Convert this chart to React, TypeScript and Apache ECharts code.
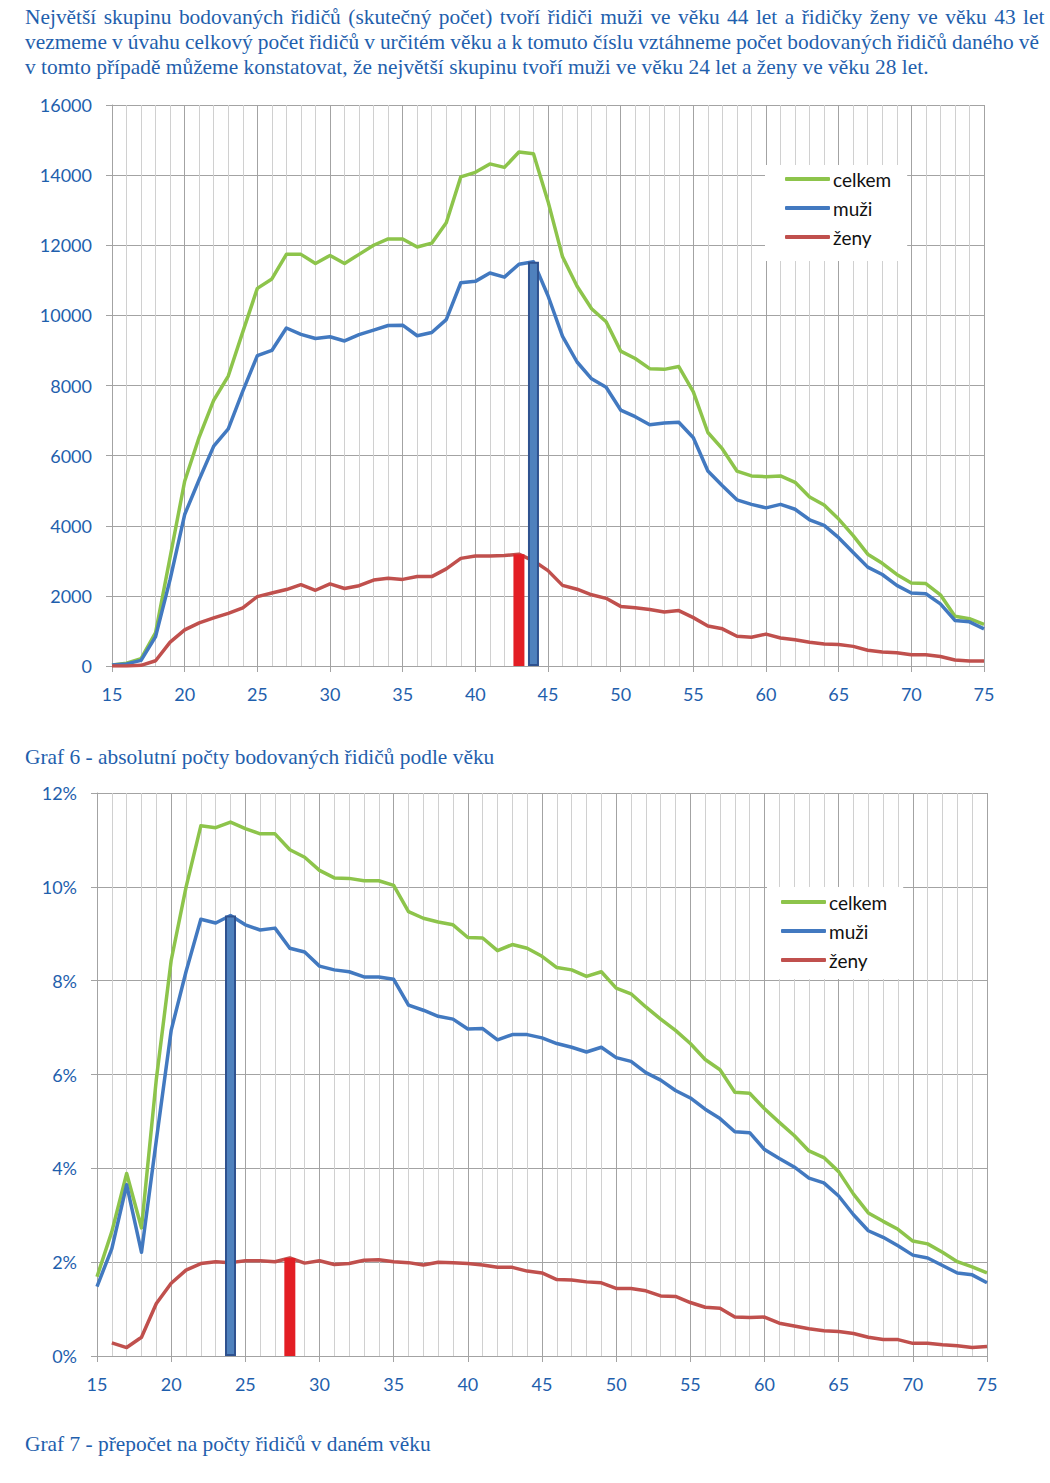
import React, { useEffect, useRef } from "react";
import * as echarts from "echarts";

const ages = [
  15, 16, 17, 18, 19, 20, 21, 22, 23, 24, 25, 26, 27, 28, 29, 30, 31, 32, 33, 34, 35, 36, 37, 38, 39, 40,
  41, 42, 43, 44, 45, 46, 47, 48, 49, 50, 51, 52, 53, 54, 55, 56, 57, 58, 59, 60, 61, 62, 63, 64, 65,
  66, 67, 68, 69, 70, 71, 72, 73, 74, 75,
];

// Graf 6 – absolute counts
const celkem1 = [
  30, 80, 210, 950, 3110, 5270, 6530, 7580, 8270, 9530, 10770, 11040, 11740, 11740, 11480, 11710, 11480,
  11740, 12000, 12180, 12180, 11950, 12060, 12640, 13950, 14080, 14320, 14220, 14660, 14610, 13250, 11670,
  10830, 10190, 9820, 8980, 8770, 8480, 8460, 8540, 7820, 6660, 6190, 5560, 5420, 5400, 5420, 5240, 4820,
  4590, 4190, 3720, 3190, 2930, 2610, 2370, 2350, 2030, 1420, 1350, 1190,
];
const muzi1 = [
  30, 60, 160, 840, 2470, 4320, 5320, 6270, 6760, 7840, 8850, 9000, 9640, 9460, 9340, 9390, 9270, 9450,
  9580, 9710, 9720, 9420, 9510, 9880, 10930, 10970, 11210, 11090, 11460, 11530, 10560, 9400, 8670, 8190,
  7950, 7300, 7110, 6880, 6930, 6950, 6510, 5560, 5140, 4740, 4610, 4510, 4610, 4470, 4170, 4010, 3660,
  3240, 2820, 2610, 2300, 2080, 2060, 1770, 1300, 1260, 1060,
];
const zeny1 = [
  0, 0, 20, 150, 680, 1030, 1230, 1370, 1500, 1660, 1980, 2080, 2180, 2320, 2160, 2340, 2210, 2290, 2450,
  2500, 2470, 2550, 2550, 2770, 3070, 3140, 3140, 3150, 3190, 3000, 2720, 2300, 2190, 2030, 1930, 1700,
  1660, 1610, 1540, 1580, 1380, 1140, 1060, 850, 820, 910, 800, 750, 680, 630, 610, 560, 450, 400, 380,
  320, 320, 270, 170, 140, 140,
];

// Graf 7 – share of drivers of given age (%)
const celkem2 = [
  1.69, 2.65, 3.89, 2.73, 5.9, 8.43, 9.99, 11.3, 11.26, 11.38, 11.24, 11.13, 11.13, 10.79, 10.63, 10.35,
  10.19, 10.18, 10.13, 10.13, 10.03, 9.47, 9.33, 9.25, 9.19, 8.92, 8.91, 8.64, 8.77, 8.69, 8.52, 8.28, 8.23,
  8.09, 8.19, 7.84, 7.72, 7.44, 7.18, 6.94, 6.66, 6.32, 6.1, 5.62, 5.6, 5.27, 4.98, 4.7, 4.37, 4.23, 3.93,
  3.45, 3.05, 2.87, 2.7, 2.45, 2.39, 2.21, 2.01, 1.9, 1.77,
];
const muzi2 = [
  1.48, 2.29, 3.65, 2.21, 4.6, 6.94, 8.19, 9.31, 9.23, 9.39, 9.19, 9.08, 9.12, 8.69, 8.61, 8.31, 8.23, 8.19,
  8.08, 8.08, 8.03, 7.48, 7.37, 7.24, 7.18, 6.97, 6.98, 6.74, 6.85, 6.85, 6.78, 6.66, 6.58, 6.48, 6.58, 6.36,
  6.28, 6.04, 5.88, 5.66, 5.5, 5.26, 5.06, 4.78, 4.76, 4.4, 4.21, 4.03, 3.79, 3.69, 3.41, 3.01, 2.67, 2.53,
  2.35, 2.15, 2.09, 1.93, 1.77, 1.73, 1.56,
];
const zeny2 = [
  null, 0.28, 0.18, 0.4, 1.12, 1.55, 1.83, 1.97, 2.01, 1.99, 2.03, 2.03, 2.01, 2.09, 1.98, 2.03, 1.95, 1.97,
  2.04, 2.05, 2.01, 1.99, 1.94, 2.0, 1.99, 1.97, 1.94, 1.89, 1.89, 1.81, 1.77, 1.63, 1.62, 1.58, 1.56, 1.44,
  1.44, 1.39, 1.28, 1.27, 1.14, 1.04, 1.02, 0.83, 0.82, 0.83, 0.7, 0.64, 0.58, 0.54, 0.52, 0.48, 0.4, 0.35,
  0.35, 0.27, 0.27, 0.24, 0.22, 0.18, 0.2,
];

const seriesNames = ["celkem", "muži", "ženy"];
const yTicks1 = { min: 0, max: 16000, interval: 2000 };
const yTicks2 = { min: 0, max: 12, interval: 2 };
const xTicks = { min: 15, max: 75, interval: 5 };

// highlighted ages (bars)
const peak1 = { zeny: 43, muzi: 44 };
const peak2 = { muzi: 24, zeny: 28 };

const textLines = [
  "Největší skupinu bodovaných řidičů (skutečný počet) tvoří řidiči muži ve věku 44 let a řidičky ženy ve věku 43 let",
  "vezmeme v úvahu celkový počet řidičů v určitém věku a k tomuto číslu vztáhneme počet bodovaných řidičů daného vě",
  "v tomto případě můžeme konstatovat, že největší skupinu tvoří muži ve věku 24 let a ženy ve věku 28 let.",
];
const caption1 = "Graf 6 - absolutní počty bodovaných řidičů podle věku";
const caption2 = "Graf 7 - přepočet na počty řidičů v daném věku";

const GREEN = "#8DC44B";
const BLUE = "#4279C0";
const RED = "#C0504D";
const BAR_RED = "#E31E24";
const BAR_BLUE = "#4F81BD";
const BAR_BLUE_BORDER = "#2F528F";
const LABEL = "#1F5FAD";
const GRID_MAJOR = "#A3A3A3";
const GRID_MINOR = "#D0D0D0";

const pair = (arr: (number | null)[]) => ages.map((a, i) => [a, arr[i]]);
const at = (arr: (number | null)[], age: number) => arr[ages.indexOf(age)] as number;

function xAxisFor(gi: number) {
  return {
    type: "value",
    gridIndex: gi,
    ...xTicks,
    axisLine: { show: true, onZero: false, lineStyle: { color: GRID_MAJOR, width: 1 } },
    axisTick: { show: true, length: 6, lineStyle: { color: GRID_MAJOR } },
    axisLabel: { color: LABEL, fontSize: 18, fontFamily: "Lato", margin: 19 },
    splitLine: { show: true, lineStyle: { color: GRID_MAJOR, width: 1 } },
    minorTick: { show: false, splitNumber: 5 },
    minorSplitLine: { show: true, lineStyle: { color: GRID_MINOR, width: 1 } },
  };
}

function yAxisFor(gi: number, ticks: any, fmt: (v: number) => string) {
  return {
    type: "value",
    gridIndex: gi,
    ...ticks,
    axisLine: { show: true, lineStyle: { color: GRID_MAJOR, width: 1 } },
    axisTick: { show: true, length: 6, lineStyle: { color: GRID_MAJOR } },
    axisLabel: {
      color: LABEL,
      fontSize: 18,
      fontFamily: "Lato",
      margin: 20,
      formatter: fmt,
    },
    splitLine: { show: true, lineStyle: { color: GRID_MAJOR, width: 1 } },
  };
}

function lineSeries(name: string, color: string, data: any, gi: number) {
  return {
    type: "line",
    name,
    xAxisIndex: gi,
    yAxisIndex: gi,
    data,
    symbol: "none",
    showSymbol: false,
    connectNulls: false,
    lineStyle: { color, width: 3.5, join: "round" },
    itemStyle: { color },
    z: 2,
  };
}

function legendFor(left: number, top: number, pad: number[]) {
  return {
    orient: "vertical",
    left,
    top,
    data: seriesNames,
    backgroundColor: "#ffffff",
    padding: pad,
    icon: "roundRect",
    itemWidth: 45,
    itemHeight: 4,
    itemGap: 9,
    selectedMode: false,
    textStyle: { color: "#111", fontSize: 19, fontFamily: "Lato", lineHeight: 20, padding: [0, 0, 0, -2] },
  };
}

export default function App() {
  const ref = useRef<HTMLDivElement>(null);

  useEffect(() => {
    document.body.style.margin = "0";
    if (!ref.current) return;
    const chart = echarts.init(ref.current, null, { renderer: "svg" });
    const option: any = {
      animation: false,
      backgroundColor: "#ffffff",
      textStyle: { fontFamily: "Lato" },
      grid: [
        { left: 112, top: 105, width: 872, height: 561 },
        { left: 97, top: 793, width: 890, height: 563 },
      ],
      xAxis: [xAxisFor(0), xAxisFor(1)],
      yAxis: [
        yAxisFor(0, yTicks1, (v: number) => String(v)),
        yAxisFor(1, yTicks2, (v: number) => v + "%"),
      ],
      legend: [legendFor(765, 165, [4, 16, 14, 20]), legendFor(767, 887, [5, 16, 9, 14])],
      series: [
        lineSeries("celkem", GREEN, pair(celkem1), 0),
        lineSeries("muži", BLUE, pair(muzi1), 0),
        lineSeries("ženy", RED, pair(zeny1), 0),
        {
          type: "bar",
          name: "peak1",
          xAxisIndex: 0,
          yAxisIndex: 0,
          barWidth: 11,
          z: 5,
          data: [
            { value: [peak1.zeny, at(zeny1, peak1.zeny)], itemStyle: { color: BAR_RED } },
            {
              value: [peak1.muzi, at(muzi1, peak1.muzi)],
              itemStyle: { color: BAR_BLUE, borderColor: BAR_BLUE_BORDER, borderWidth: 2 },
            },
          ],
        },
        lineSeries("celkem", GREEN, pair(celkem2), 1),
        lineSeries("muži", BLUE, pair(muzi2), 1),
        lineSeries("ženy", RED, pair(zeny2), 1),
        {
          type: "bar",
          name: "peak2",
          xAxisIndex: 1,
          yAxisIndex: 1,
          barWidth: 11,
          z: 5,
          data: [
            {
              value: [peak2.muzi, at(muzi2, peak2.muzi)],
              itemStyle: { color: BAR_BLUE, borderColor: BAR_BLUE_BORDER, borderWidth: 2 },
            },
            { value: [peak2.zeny, at(zeny2, peak2.zeny)], itemStyle: { color: BAR_RED } },
          ],
        },
      ],
    };
    chart.setOption(option);
    return () => chart.dispose();
  }, []);

  const textStyle: React.CSSProperties = {
    position: "absolute",
    left: 25,
    whiteSpace: "nowrap",
    fontFamily: "'Liberation Serif', 'Times New Roman', serif",
    fontSize: 21.4,
    lineHeight: "25px",
    color: LABEL,
  };

  return (
    <div style={{ position: "relative", width: 1050, height: 1483, overflow: "hidden", background: "#fff" }}>
      <div ref={ref} style={{ position: "absolute", left: 0, top: 0, width: 1050, height: 1483 }} />
      <div style={{ ...textStyle, top: 5, wordSpacing: 2.1 }}>{textLines[0]}</div>
      <div style={{ ...textStyle, top: 30, wordSpacing: -0.3 }}>{textLines[1]}</div>
      <div style={{ ...textStyle, top: 55 }}>{textLines[2]}</div>
      <div style={{ ...textStyle, top: 745 }}>{caption1}</div>
      <div style={{ ...textStyle, top: 1432 }}>{caption2}</div>
    </div>
  );
}
